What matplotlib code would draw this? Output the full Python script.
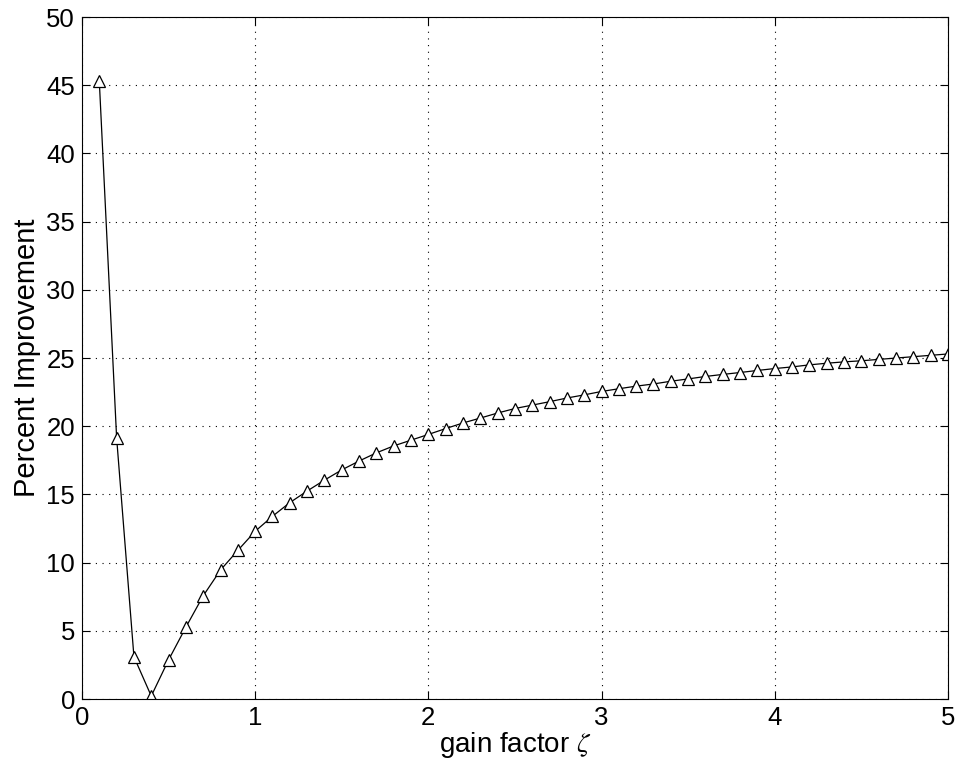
import matplotlib
matplotlib.use("Agg")
import matplotlib.pyplot as plt
import numpy as np

gain = [round(0.1 * i, 1) for i in range(1, 51)]
improvement = [
    45.3, 19.15, 3.1, 0.22, 2.87, 5.27, 7.57, 9.46, 10.9, 12.3,
    13.4, 14.4, 15.25, 16.05, 16.8, 17.45, 18.05, 18.56, 18.98, 19.4,
    19.83, 20.24, 20.6, 20.97, 21.3, 21.55, 21.8, 22.07, 22.3, 22.55,
    22.75, 22.94, 23.1, 23.3, 23.47, 23.65, 23.8, 23.94, 24.09, 24.23,
    24.35, 24.5, 24.62, 24.72, 24.8, 24.9, 25.0, 25.1, 25.2, 25.3,
]
xticks = [0, 1, 2, 3, 4, 5]
yticks = [0, 5, 10, 15, 20, 25, 30, 35, 40, 45, 50]

plt.rcParams['font.family'] = ['Liberation Sans', 'DejaVu Sans']
plt.rcParams['mathtext.fontset'] = 'stix'

fig = plt.figure(figsize=(9.6, 7.75), dpi=100)
ax = fig.add_axes([0.0854, 0.098, 0.902, 0.880])
ax.plot(gain, improvement, color='black', linewidth=0.9, marker='^',
        markersize=9, markerfacecolor='white', markeredgecolor='black',
        markeredgewidth=0.9)
ax.set_xlim(0, 5)
ax.set_ylim(0, 50)
ax.set_xticks(xticks)
ax.set_yticks(yticks)
ax.tick_params(direction='in', top=True, right=True, labelsize=18.5, length=6,
               width=0.8, pad=5)
ax.grid(True, linestyle=(0, (1, 5)), color='black', linewidth=0.8)
for s in ax.spines.values():
    s.set_linewidth(0.8)
ax.set_xlabel(r'gain factor $\zeta$', fontsize=20, labelpad=0)
ax.set_ylabel('Percent Improvement', fontsize=21, labelpad=4)
fig.savefig('out.png', dpi=100)
